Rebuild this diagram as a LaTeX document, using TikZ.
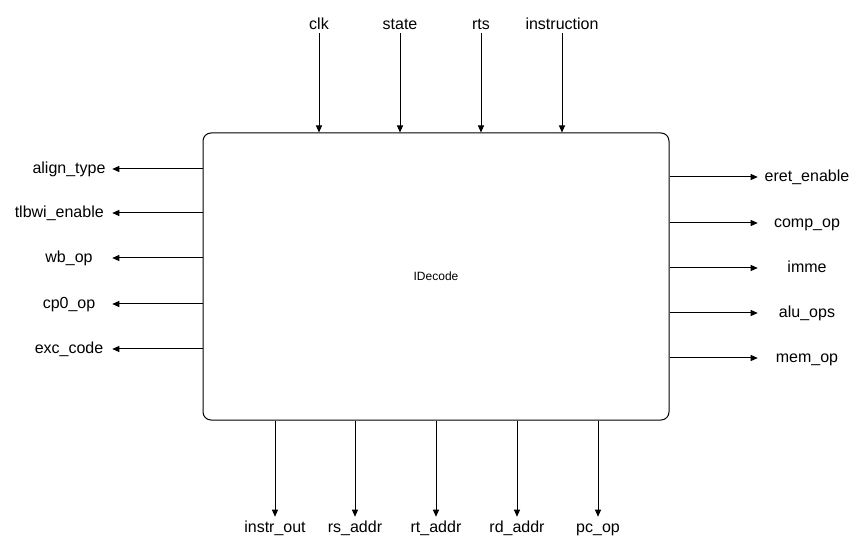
\documentclass[tikz,border=0pt]{standalone}
\usepackage{fontspec}
\setmainfont{Liberation Sans}
\usetikzlibrary{arrows.meta}
\begin{document}
\begin{tikzpicture}[x=0.75pt,y=-0.75pt,
  lbl/.style={inner sep=0pt, font=\fontsize{12}{14}\selectfont, text height=9pt, text depth=2.25pt},
  toplbl/.style={lbl, minimum height=12pt},
  botlbl/.style={lbl, minimum height=16.5pt},
  leftlbl/.style={lbl, minimum width=64.5pt},
  rightlbl/.style={lbl, minimum width=73.5pt},
  arr/.style={-{Triangle[length=5.25pt,width=4.5pt]}, line width=0.75pt, black},
  block/.style={draw, line width=0.75pt, rounded corners=6pt, inner sep=0pt, minimum width=349.5pt, minimum height=215.25pt, font=\fontsize{9}{11}\selectfont}
]
\useasboundingbox (0,0) rectangle (868,552);
\node[block] (dec) at (436,276.5) {IDecode};
% top inputs
\node[toplbl] (clk) at (319,25) {clk};
\node[toplbl] (state) at (400,25) {state};
\node[toplbl] (rts) at (481,25) {rts};
\node[toplbl] (ins) at (562,25) {instruction};
\foreach \nm in {clk,state,rts,ins} \draw[arr] (\nm.south) -- (\nm.south |- dec.north);
% left outputs
\node[leftlbl] (al) at (69,169) {align\_type};
\node[lbl, anchor=east] (tl) at (104,213) {tlbwi\_enable};
\node[leftlbl] (wb) at (69,258) {wb\_op};
\node[leftlbl] (cp) at (69,304) {cp0\_op};
\node[leftlbl] (ex) at (69,349) {exc\_code};
\foreach \nm in {al,wb,cp,ex} \draw[arr] (dec.west |- \nm) -- (\nm.east);
\draw[arr] (dec.west |- tl) -- (tl.east -| al.east);
% right outputs
\node[rightlbl] (er) at (807,177) {eret\_enable};
\node[rightlbl] (co) at (807,223) {comp\_op};
\node[rightlbl] (im) at (807,268) {imme};
\node[rightlbl] (au) at (807,313) {alu\_ops};
\node[rightlbl] (me) at (807,358) {mem\_op};
\foreach \nm in {er,co,im,au,me} \draw[arr] (dec.east |- \nm) -- (\nm.west);
% bottom outputs
\node[botlbl] (io) at (275,528) {instr\_out};
\node[botlbl] (rs) at (355,528) {rs\_addr};
\node[botlbl] (rt) at (436,528) {rt\_addr};
\node[botlbl] (rd) at (517,528) {rd\_addr};
\node[botlbl] (pc) at (598,528) {pc\_op};
\foreach \nm in {io,rs,rt,rd,pc} \draw[arr] (dec.south -| \nm) -- (\nm.north);
\end{tikzpicture}
\end{document}
